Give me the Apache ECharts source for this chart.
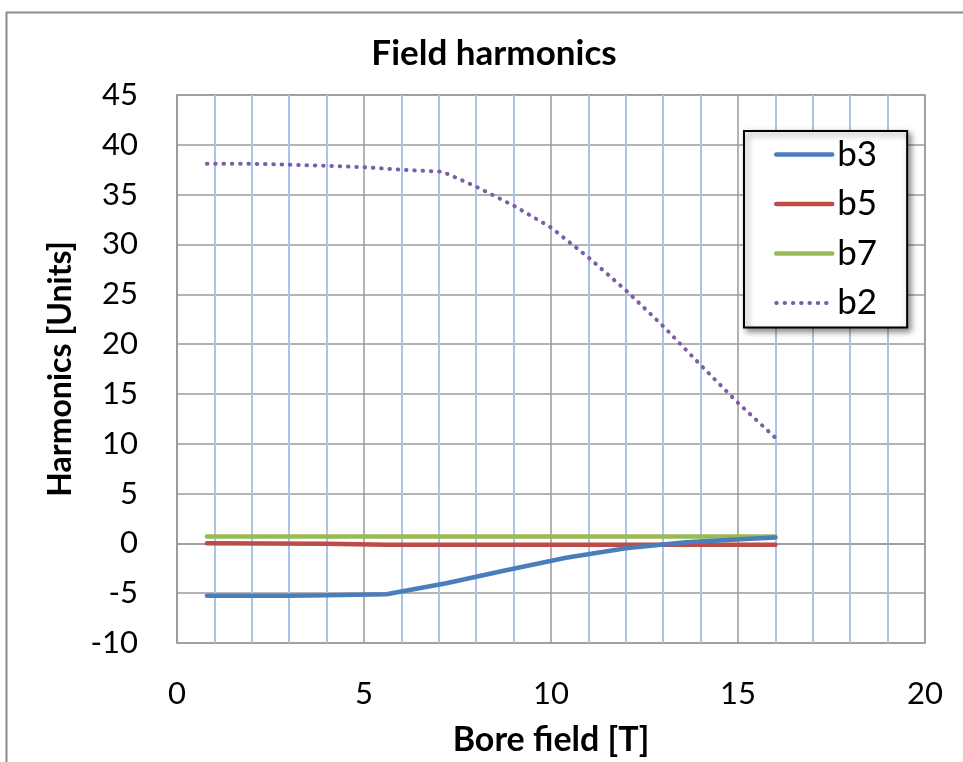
<!DOCTYPE html>
<html>
<head>
<meta charset="utf-8">
<script src="https://cdn.jsdelivr.net/npm/echarts@6/dist/echarts.min.js"></script>
<style>
html,body{margin:0;padding:0;background:#fff;}
#chart{width:963px;height:762px;}
</style>
</head>
<body>
<div id="chart"></div>
<script>
// ---- data ----
const seriesNames = ['b3', 'b5', 'b7', 'b2'];
const b3X = [0.8, 2, 3, 4, 5.6, 7.2, 8.8, 10.4, 12, 13.6, 15.2, 16];
const b3Y = [-5.25, -5.25, -5.25, -5.22, -5.1, -4.0, -2.7, -1.45, -0.5, 0.12, 0.45, 0.58];
const b5X = [0.8, 4, 5.6, 16];
const b5Y = [0, -0.05, -0.15, -0.15];
const b7X = [0.8, 4, 8, 12, 16];
const b7Y = [0.7, 0.7, 0.7, 0.7, 0.7];
const b2X = [0.8, 2, 3, 4, 5, 6, 7.1, 8, 9, 10, 11, 12, 13, 14, 15, 16];
const b2Y = [38.1, 38.1, 38.0, 37.9, 37.75, 37.5, 37.3, 35.8, 33.9, 31.7, 28.7, 25.4, 21.8, 17.9, 14.1, 10.6];
const xTicks = [0, 5, 10, 15, 20];
const yTicks = [-10, -5, 0, 5, 10, 15, 20, 25, 30, 35, 40, 45];

const pairs = (xs, ys) => xs.map((x, i) => [x, ys[i]]);
const FONT = 'Lato';
const GRAY = '#9a9a9a';
const COLORS = {b3: '#4a7ebb', b5: '#be4b48', b7: '#98b954', b2: '#7b5ea7'};
const DOT = [0.5, 7.8];

const legendData = seriesNames.map(n => ({
  name: n,
  itemStyle: {opacity: 0},
  lineStyle: n === 'b2'
    ? {color: COLORS[n], width: 4, type: DOT, cap: 'round'}
    : {color: COLORS[n], width: 4.5, type: 'solid', cap: 'round'}
}));

const chart = echarts.init(document.getElementById('chart'), null, {renderer: 'canvas'});
chart.setOption({
  backgroundColor: '#fff',
  animation: false,
  graphic: [{
    type: 'rect', left: 4, top: 10, z: -10,
    shape: {width: 1000, height: 800},
    style: {fill: 'none', stroke: '#8a8a8a', lineWidth: 2}
  }],
  title: {
    text: 'Field harmonics',
    left: 489, top: 31, textAlign: 'center',
    textStyle: {fontFamily: FONT, fontWeight: 'bold', fontSize: 35, color: '#000'}
  },
  grid: {left: 177, top: 95, right: 38, bottom: 118, show: true, borderColor: GRAY, borderWidth: 1.5},
  legend: {
    data: legendData,
    orient: 'vertical',
    left: 744, top: 131,
    itemWidth: 56, itemHeight: 4, itemGap: 14.5,
    padding: [6, 30, 7, 30],
    backgroundColor: '#fff',
    borderColor: '#000', borderWidth: 2,
    shadowColor: 'rgba(0,0,0,0.45)', shadowBlur: 6, shadowOffsetX: 3, shadowOffsetY: 3,
    itemStyle: {opacity: 0},
    textStyle: {fontFamily: FONT, fontSize: 35, color: '#000', lineHeight: 32}
  },
  xAxis: {
    type: 'value', min: 0, max: 20, interval: 5,
    name: 'Bore field [T]', nameLocation: 'middle', nameGap: 80,
    nameTextStyle: {fontFamily: FONT, fontWeight: 'bold', fontSize: 34, color: '#000'},
    axisLine: {show: true, lineStyle: {color: GRAY, width: 1.5}},
    axisTick: {show: false},
    axisLabel: {margin: 35, fontFamily: FONT, fontSize: 31, color: '#000',
      formatter: v => xTicks.includes(v) ? String(v) : ''},
    splitLine: {show: true, lineStyle: {color: GRAY, width: 1.5}},
    minorTick: {show: false, splitNumber: 5},
    minorSplitLine: {show: true, lineStyle: {color: '#a9c3ea', width: 2}}
  },
  yAxis: {
    type: 'value', min: -10, max: 45, interval: 5,
    name: 'Harmonics [Units]', nameLocation: 'middle', nameGap: 100,
    nameTextStyle: {fontFamily: FONT, fontWeight: 'bold', fontSize: 32, color: '#000'},
    axisLine: {show: true, lineStyle: {color: GRAY, width: 1.5}},
    axisTick: {show: false},
    axisLabel: {margin: 39, fontFamily: FONT, fontSize: 31, color: '#000',
      formatter: v => yTicks.includes(v) ? String(v) : ''},
    splitLine: {show: true, lineStyle: {color: GRAY, width: 1.5}}
  },
  series: [
    {name: 'b3', type: 'line', data: pairs(b3X, b3Y), symbol: 'none', z: 3,
      color: COLORS.b3, lineStyle: {color: COLORS.b3, width: 4.5, cap: 'round'}},
    {name: 'b5', type: 'line', data: pairs(b5X, b5Y), symbol: 'none', z: 2,
      color: COLORS.b5, lineStyle: {color: COLORS.b5, width: 4.5, cap: 'round'}},
    {name: 'b7', type: 'line', data: pairs(b7X, b7Y), symbol: 'none', z: 2,
      color: COLORS.b7, lineStyle: {color: COLORS.b7, width: 4.5, cap: 'round'}},
    {name: 'b2', type: 'line', data: pairs(b2X, b2Y), symbol: 'none', z: 4,
      color: COLORS.b2, lineStyle: {color: COLORS.b2, width: 4, type: DOT, cap: 'round'}}
  ]
});
</script>
</body>
</html>
